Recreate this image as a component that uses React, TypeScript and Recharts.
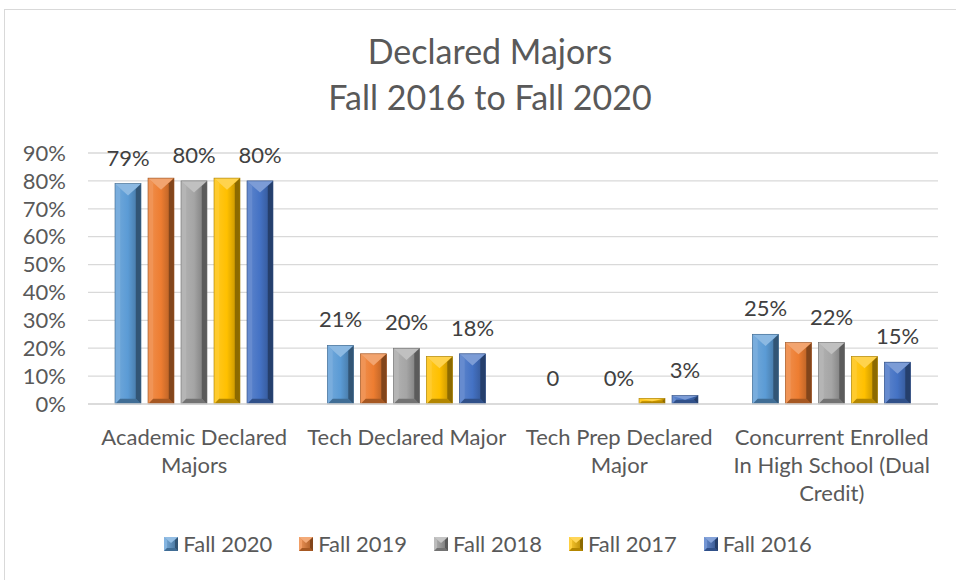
import React from "react";
import { BarChart, Bar, XAxis, YAxis, CartesianGrid, LabelList } from "recharts";

const categories = [
  "Academic Declared Majors",
  "Tech Declared Major",
  "Tech Prep Declared Major",
  "Concurrent Enrolled In High School (Dual Credit)",
];
// how Excel wrapped the category names
const categoryLines = [
  ["Academic Declared", "Majors"],
  ["Tech Declared Major"],
  ["Tech Prep Declared", "Major"],
  ["Concurrent Enrolled", "In High School (Dual", "Credit)"],
];

const seriesNames = ["Fall 2020", "Fall 2019", "Fall 2018", "Fall 2017", "Fall 2016"];
const seriesColors = ["#5B9BD5", "#ED7D31", "#A5A5A5", "#FFC000", "#4472C4"];

const fall2020 = [79, 21, 0, 25];
const fall2019 = [81, 18, 0, 22];
const fall2018 = [80, 20, 0, 22];
const fall2017 = [81, 17, 2, 17];
const fall2016 = [80, 18, 3, 15];

// only three series carry data labels in the original
const fall2020Labels = ["79%", "21%", "0", "25%"];
const fall2018Labels = ["80%", "20%", "0%", "22%"];
const fall2016Labels = ["80%", "18%", "3%", "15%"];

const yTicks = [0, 10, 20, 30, 40, 50, 60, 70, 80, 90];

const data = categories.map((name, i) => ({
  name,
  f2020: fall2020[i],
  f2019: fall2019[i],
  f2018: fall2018[i],
  f2017: fall2017[i],
  f2016: fall2016[i],
}));

const keys = ["f2020", "f2019", "f2018", "f2017", "f2016"];
const labelSets: Record<string, string[]> = {
  f2020: fall2020Labels,
  f2018: fall2018Labels,
  f2016: fall2016Labels,
};

const FONT = "Lato, 'Liberation Sans', sans-serif";

const shade = (hex: string, amt: number) => {
  const n = parseInt(hex.slice(1), 16);
  const mix = (c: number) =>
    Math.round(amt >= 0 ? c + (255 - c) * amt : c * (1 + amt));
  const r = mix((n >> 16) & 255);
  const g = mix((n >> 8) & 255);
  const b = mix(n & 255);
  return `rgb(${r},${g},${b})`;
};

// bevelled bar, looks like Excel's "angle" bevel
const Bevel = ({ x, y, width, height, color, id }: any) => {
  if (!height || height <= 0) return null;
  const w = width;
  const h = height;
  const s = Math.min(w * 0.2, h / 2);
  const t = Math.min(w * 0.45, h / 2);
  return (
    <g>
      <rect x={x} y={y} width={w} height={h} fill={`url(#face-${id})`} />
      <polygon
        points={`${x},${y} ${x + s},${y + s} ${x + s},${y + h - s} ${x},${y + h}`}
        fill={shade(color, 0.18)}
      />
      <polygon
        points={`${x + w},${y} ${x + w - s},${y + s} ${x + w - s},${y + h - s} ${x + w},${y + h}`}
        fill={shade(color, -0.45)}
      />
      <polygon
        points={`${x},${y + h} ${x + s},${y + h - s} ${x + w - s},${y + h - s} ${x + w},${y + h}`}
        fill={shade(color, -0.3)}
      />
      <polygon
        points={`${x},${y} ${x + w},${y} ${x + w / 2},${y + t}`}
        fill={shade(color, 0.3)}
      />
      <rect x={x} y={y} width={w} height={h} fill="none" stroke={shade(color, -0.35)} strokeWidth={0.6} />
    </g>
  );
};

const CategoryTick = ({ x, y, index }: any) => {
  const lines = categoryLines[index] || [];
  return (
    <text x={x} y={y + 39} textAnchor="middle" fill="#595959" fontSize={22} fontFamily={FONT}>
      {lines.map((l, i) => (
        <tspan key={i} x={x} dy={i === 0 ? 0 : 28}>
          {l}
        </tspan>
      ))}
    </text>
  );
};

const makeLabel = (labels: string[]) => (props: any) => {
  const { x, y, width, index } = props;
  return (
    <text
      x={x + width / 2}
      y={y - 18}
      textAnchor="middle"
      fill="#404040"
      fontSize={22}
      fontFamily={FONT}
    >
      {labels[index]}
    </text>
  );
};

const LegendIcon = ({ color, id }: { color: string; id: number }) => (
  <svg width={14} height={14} style={{ marginRight: 5 }}>
    <defs>
      <linearGradient id={`leg-${id}`} x1="0" y1="0" x2="1" y2="0">
        <stop offset="0%" stopColor={shade(color, 0.2)} />
        <stop offset="100%" stopColor={shade(color, -0.3)} />
      </linearGradient>
    </defs>
    <rect x={0} y={0} width={14} height={14} fill={`url(#leg-${id})`} />
    <polygon points="0,0 3,3 3,11 0,14" fill={shade(color, 0.25)} />
    <polygon points="14,0 11,3 11,11 14,14" fill={shade(color, -0.45)} />
    <polygon points="0,14 3,11 11,11 14,14" fill={shade(color, -0.3)} />
    <polygon points="0,0 14,0 7,6" fill={shade(color, 0.35)} />
  </svg>
);

export default function App() {
  return (
    <div style={{ position: "fixed", left: 0, top: 0, width: 956, height: 580, background: "#fff" }}>
      <div
        style={{
          position: "absolute",
          left: 4,
          top: 9,
          width: 970,
          height: 590,
          border: "1px solid #d9d9d9",
        }}
      />
      <div
        style={{
          position: "absolute",
          left: 0,
          top: 28,
          width: 980,
          textAlign: "center",
          fontFamily: FONT,
          fontSize: 34,
          lineHeight: "46px",
          color: "#595959",
        }}
      >
        <div>Declared Majors</div>
        <div>Fall 2016 to Fall 2020</div>
      </div>
      <div style={{ position: "absolute", left: 0, top: 0 }}>
        <BarChart
          width={956}
          height={580}
          data={data}
          margin={{ top: 153, right: 18, bottom: 0, left: 0 }}
          barSize={26}
          barGap={7}
        >
          <defs>
            {seriesColors.map((c, i) => (
              <linearGradient key={i} id={`face-${i}`} x1="0" y1="0" x2="1" y2="0">
                <stop offset="0%" stopColor={shade(c, 0.15)} />
                <stop offset="50%" stopColor={c} />
                <stop offset="100%" stopColor={shade(c, -0.3)} />
              </linearGradient>
            ))}
          </defs>
          <CartesianGrid vertical={false} stroke="#d9d9d9" strokeWidth={1.3} />
          <XAxis
            dataKey="name"
            axisLine={{ stroke: "#d9d9d9", strokeWidth: 1.3 }}
            tickLine={false}
            tickSize={0}
            height={176}
            interval={0}
            tick={<CategoryTick />}
          />
          <YAxis
            domain={[0, 90]}
            ticks={yTicks}
            interval={0}
            axisLine={false}
            tickLine={false}
            tickSize={0}
            tickMargin={22}
            width={88}
            tickFormatter={(v: number) => `${v}%`}
            tick={{ fill: "#595959", fontSize: 22, fontFamily: FONT }}
          />
          {keys.map((k, i) => (
            <Bar
              key={k}
              dataKey={k}
              name={seriesNames[i]}
              fill={seriesColors[i]}
              isAnimationActive={false}
              shape={(p: any) => <Bevel {...p} color={seriesColors[i]} id={i} />}
            >
              {labelSets[k] && <LabelList dataKey={k} content={makeLabel(labelSets[k])} />}
            </Bar>
          ))}
        </BarChart>
      </div>
      <div
        style={{
          position: "absolute",
          left: 0,
          top: 530,
          width: 976,
          display: "flex",
          justifyContent: "center",
          gap: 27,
          fontFamily: FONT,
          fontSize: 22,
          color: "#595959",
        }}
      >
        {seriesNames.map((n, i) => (
          <div key={n} style={{ display: "flex", alignItems: "center" }}>
            <LegendIcon color={seriesColors[i]} id={i} />
            <span>{n}</span>
          </div>
        ))}
      </div>
    </div>
  );
}
